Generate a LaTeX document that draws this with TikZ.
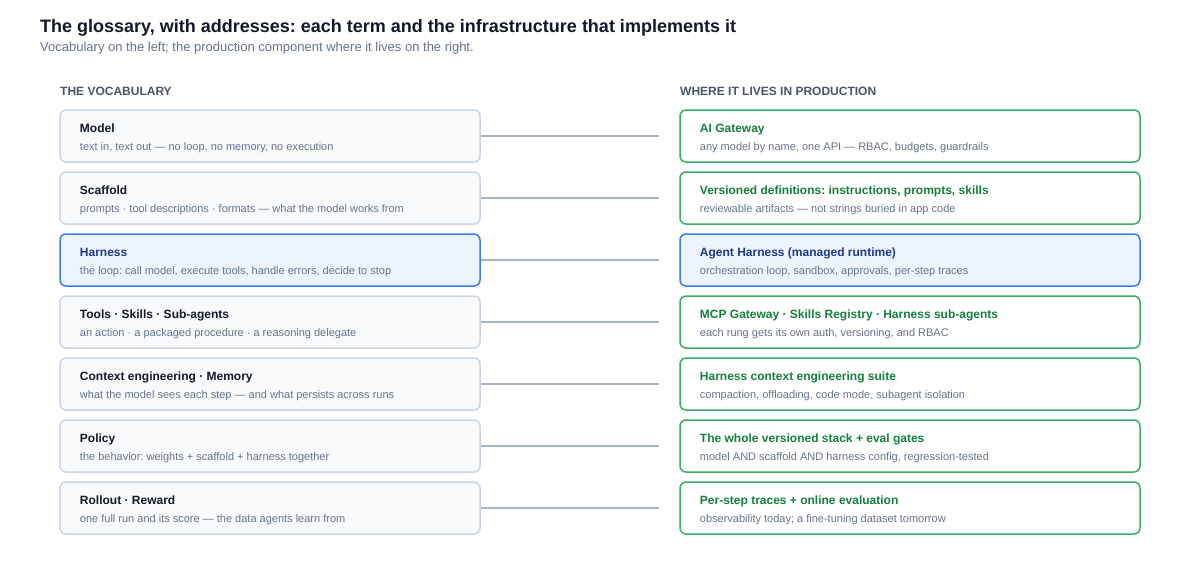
\documentclass[tikz,border=0pt]{standalone}
\usepackage{fontspec}
\setmainfont{Liberation Sans}
\frenchspacing
\definecolor{ink}{HTML}{111827}
\definecolor{subgray}{HTML}{64748B}
\definecolor{headgray}{HTML}{475569}
\definecolor{lborder}{HTML}{CBD5E1}
\definecolor{lfill}{HTML}{F8FAFC}
\definecolor{hborder}{HTML}{3B7CF0}
\definecolor{hfill}{HTML}{EEF4FE}
\definecolor{htext}{HTML}{1E3A8A}
\definecolor{gborder}{HTML}{3AAE66}
\definecolor{gtext}{HTML}{15803D}
\definecolor{linkgray}{HTML}{A8B3C3}
\tikzset{
  card/.style={rectangle, rounded corners=6pt, minimum height=52pt, inner sep=0pt, line width=1.5pt},
  lcard/.style={card, draw=lborder, fill=lfill, minimum width=420pt},
  rcard/.style={card, draw=gborder, fill=white, minimum width=460pt},
  hlcard/.style={card, draw=hborder, fill=hfill, minimum width=420pt},
  hrcard/.style={card, draw=hborder, fill=hfill, minimum width=460pt},
  ttl/.style={anchor=base west, inner sep=0pt, font=\fontsize{12}{15}\selectfont\bfseries},
  sub/.style={anchor=base west, inner sep=0pt, text=subgray, font=\fontsize{11}{13}\selectfont},
  head/.style={anchor=base west, inner sep=0pt, text=headgray, font=\fontsize{12}{13}\selectfont\bfseries},
  link/.style={draw=linkgray, line width=2pt}
}
\begin{document}
\begin{tikzpicture}[x=1pt,y=-1pt]
\useasboundingbox (0,0) rectangle (1200,560);
% headings
\node[anchor=base west, inner sep=0pt, text=ink, font=\fontsize{18}{22}\selectfont\bfseries] (title) at (40,32) {The glossary, with addresses: each term and the infrastructure that implements it};
\node[anchor=base west, inner sep=0pt, text=subgray, font=\fontsize{13}{15}\selectfont] (subtitle) at (40,51.5) {Vocabulary on the left; the production component where it lives on the right.};
\node[head] (hleft) at (60,95) {THE VOCABULARY};
\node[head] (hright) at (680,95) {WHERE IT LIVES IN PRODUCTION};

% left cards
\node[lcard] (l1) at (270,136) {};
\node[lcard] (l2) at (270,198) {};
\node[hlcard] (l3) at (270,260) {};
\node[lcard] (l4) at (270,322) {};
\node[lcard] (l5) at (270,384) {};
\node[lcard] (l6) at (270,446) {};
\node[lcard] (l7) at (270,508) {};

% right cards
\node[rcard] (r1) at (910,136) {};
\node[rcard] (r2) at (910,198) {};
\node[hrcard] (r3) at (910,260) {};
\node[rcard] (r4) at (910,322) {};
\node[rcard] (r5) at (910,384) {};
\node[rcard] (r6) at (910,446) {};
\node[rcard] (r7) at (910,508) {};

% left texts
\node[ttl, text=ink] (l1t) at ([shift={(20.5,23)}]l1.north west) {Model};
\node[sub] (l1s) at ([shift={(20.5,41)}]l1.north west) {text in, text out — no loop, no memory, no execution};
\node[ttl, text=ink] (l2t) at ([shift={(20.5,23)}]l2.north west) {Scaffold};
\node[sub] (l2s) at ([shift={(20.5,41)}]l2.north west) {prompts · tool descriptions · formats — what the model works from};
\node[ttl, text=htext] (l3t) at ([shift={(20.5,23)}]l3.north west) {Harness};
\node[sub] (l3s) at ([shift={(20.5,41)}]l3.north west) {the loop: call model, execute tools, handle errors, decide to stop};
\node[ttl, text=ink] (l4t) at ([shift={(20.5,23)}]l4.north west) {Tools · Skills · Sub-agents};
\node[sub] (l4s) at ([shift={(20.5,41)}]l4.north west) {an action · a packaged procedure · a reasoning delegate};
\node[ttl, text=ink] (l5t) at ([shift={(20.5,23)}]l5.north west) {Context engineering · Memory};
\node[sub] (l5s) at ([shift={(20.5,41)}]l5.north west) {what the model sees each step — and what persists across runs};
\node[ttl, text=ink] (l6t) at ([shift={(20.5,23)}]l6.north west) {Policy};
\node[sub] (l6s) at ([shift={(20.5,41)}]l6.north west) {the behavior: weights + scaffold + harness together};
\node[ttl, text=ink] (l7t) at ([shift={(20.5,23)}]l7.north west) {Rollout · Reward};
\node[sub] (l7s) at ([shift={(20.5,41)}]l7.north west) {one full run and its score — the data agents learn from};

% right texts
\node[ttl, text=gtext] (r1t) at ([shift={(20.5,23)}]r1.north west) {AI Gateway};
\node[sub] (r1s) at ([shift={(20.5,41)}]r1.north west) {any model by name, one API — RBAC, budgets, guardrails};
\node[ttl, text=gtext] (r2t) at ([shift={(20.5,23)}]r2.north west) {Versioned definitions: instructions, prompts, skills};
\node[sub] (r2s) at ([shift={(20.5,41)}]r2.north west) {reviewable artifacts — not strings buried in app code};
\node[ttl, text=htext] (r3t) at ([shift={(20.5,23)}]r3.north west) {Agent Harness (managed runtime)};
\node[sub] (r3s) at ([shift={(20.5,41)}]r3.north west) {orchestration loop, sandbox, approvals, per-step traces};
\node[ttl, text=gtext] (r4t) at ([shift={(20.5,23)}]r4.north west) {MCP Gateway · Skills Registry · Harness sub-agents};
\node[sub] (r4s) at ([shift={(20.5,41)}]r4.north west) {each rung gets its own auth, versioning, and RBAC};
\node[ttl, text=gtext] (r5t) at ([shift={(20.5,23)}]r5.north west) {Harness context engineering suite};
\node[sub] (r5s) at ([shift={(20.5,41)}]r5.north west) {compaction, offloading, code mode, subagent isolation};
\node[ttl, text=gtext] (r6t) at ([shift={(20.5,23)}]r6.north west) {The whole versioned stack + eval gates};
\node[sub] (r6s) at ([shift={(20.5,41)}]r6.north west) {model AND scaffold AND harness config, regression-tested};
\node[ttl, text=gtext] (r7t) at ([shift={(20.5,23)}]r7.north west) {Per-step traces + online evaluation};
\node[sub] (r7s) at ([shift={(20.5,41)}]r7.north west) {observability today; a fine-tuning dataset tomorrow};

% connectors: end 20pt short of the right cards
\foreach \i in {1,...,7} {
  \coordinate (e\i) at ([xshift=-20pt]r\i.west);
  \draw[link] (l\i.east) -- (e\i);
}
\end{tikzpicture}
\end{document}
